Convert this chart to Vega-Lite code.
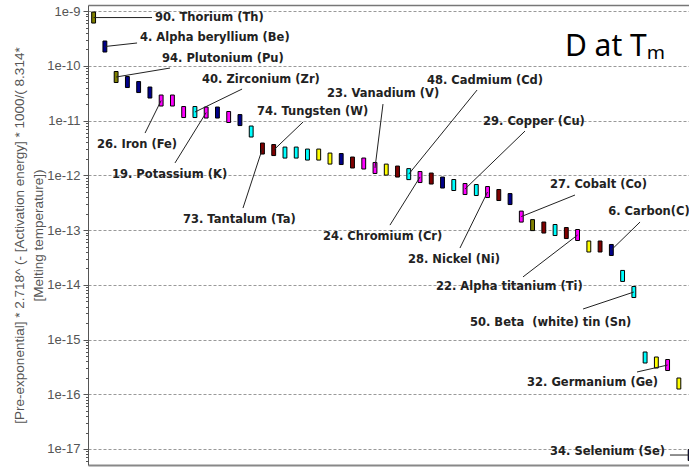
{
  "$schema": "https://vega.github.io/schema/vega-lite/v6.json",
  "width": 601,
  "height": 460,
  "autosize": {"type": "none"},
  "padding": {"left": 88, "top": 5, "right": 0, "bottom": 3},
  "background": "white",
  "config": {"view": {"stroke": null}},
  "title": {"text": "D at Tₘ", "anchor": "end", "frame": "group", "font": "Noto Sans", "fontSize": 30, "fontWeight": "normal", "color": "black", "baseline": "alphabetic", "offset": 0, "dx": -24, "dy": 81},
  "datasets": {
    "bars": [
      {"n": 0, "v": 7.61e-10, "g": "A"},
      {"n": 1, "v": 2.25e-10, "g": "B"},
      {"n": 2, "v": 6.24e-11, "g": "A"},
      {"n": 3, "v": 5.05e-11, "g": "B"},
      {"n": 4, "v": 4.09e-11, "g": "B"},
      {"n": 5, "v": 3.25e-11, "g": "B"},
      {"n": 6, "v": 2.32e-11, "g": "C"},
      {"n": 7, "v": 2.32e-11, "g": "C"},
      {"n": 8, "v": 1.43e-11, "g": "C"},
      {"n": 9, "v": 1.43e-11, "g": "D"},
      {"n": 10, "v": 1.40e-11, "g": "C"},
      {"n": 11, "v": 1.40e-11, "g": "B"},
      {"n": 12, "v": 1.16e-11, "g": "C"},
      {"n": 13, "v": 1.02e-11, "g": "B"},
      {"n": 14, "v": 6.30e-12, "g": "D"},
      {"n": 15, "v": 3.08e-12, "g": "E"},
      {"n": 16, "v": 2.89e-12, "g": "E"},
      {"n": 17, "v": 2.60e-12, "g": "D"},
      {"n": 18, "v": 2.60e-12, "g": "D"},
      {"n": 19, "v": 2.39e-12, "g": "D"},
      {"n": 20, "v": 2.39e-12, "g": "F"},
      {"n": 21, "v": 2.02e-12, "g": "F"},
      {"n": 22, "v": 1.98e-12, "g": "B"},
      {"n": 23, "v": 1.71e-12, "g": "E"},
      {"n": 24, "v": 1.64e-12, "g": "C"},
      {"n": 25, "v": 1.36e-12, "g": "C"},
      {"n": 26, "v": 1.27e-12, "g": "F"},
      {"n": 27, "v": 1.17e-12, "g": "E"},
      {"n": 28, "v": 1.05e-12, "g": "D"},
      {"n": 29, "v": 9.29e-13, "g": "C"},
      {"n": 30, "v": 8.72e-13, "g": "E"},
      {"n": 31, "v": 7.37e-13, "g": "B"},
      {"n": 32, "v": 6.64e-13, "g": "D"},
      {"n": 33, "v": 5.61e-13, "g": "C"},
      {"n": 34, "v": 5.38e-13, "g": "D"},
      {"n": 35, "v": 4.94e-13, "g": "C"},
      {"n": 36, "v": 4.36e-13, "g": "E"},
      {"n": 37, "v": 3.68e-13, "g": "B"},
      {"n": 38, "v": 1.76e-13, "g": "C"},
      {"n": 39, "v": 1.23e-13, "g": "A"},
      {"n": 40, "v": 1.11e-13, "g": "E"},
      {"n": 41, "v": 1.00e-13, "g": "D"},
      {"n": 42, "v": 8.81e-14, "g": "E"},
      {"n": 43, "v": 8.11e-14, "g": "C"},
      {"n": 44, "v": 5.00e-14, "g": "F"},
      {"n": 45, "v": 5.00e-14, "g": "E"},
      {"n": 46, "v": 4.32e-14, "g": "B"},
      {"n": 47, "v": 1.45e-14, "g": "D"},
      {"n": 48, "v": 7.37e-15, "g": "D"},
      {"n": 49, "v": 4.69e-16, "g": "D"},
      {"n": 50, "v": 3.80e-16, "g": "F"},
      {"n": 51, "v": 3.42e-16, "g": "C"},
      {"n": 52, "v": 1.57e-16, "g": "F"},
      {"n": 53, "v": 7.76e-18, "g": "B"}
    ],
    "labels": [
      {"label": "90. Thorium (Th)", "n": 0, "v": 7.61e-10, "ex": 5.19, "ev": 7.61e-10, "tx": 5.46, "tv": 7.61e-10},
      {"label": "4. Alpha beryllium (Be)", "n": 1, "v": 2.25e-10, "ex": 3.86, "ev": 2.61e-10, "tx": 4.12, "tv": 3.17e-10},
      {"label": "94. Plutonium (Pu)", "n": 2, "v": 6.24e-11, "ex": 6.79, "ev": 9.10e-11, "tx": 6.08, "tv": 1.31e-10},
      {"label": "40. Zirconium (Zr)", "n": 9, "v": 1.43e-11, "ex": 13.19, "ev": 3.76e-11, "tx": 9.63, "tv": 5.50e-11},
      {"label": "26. Iron (Fe)", "n": 6, "v": 2.32e-11, "ex": 4.57, "ev": 5.91e-12, "tx": 0.30, "tv": 3.57e-12},
      {"label": "19. Potassium (K)", "n": 10, "v": 1.40e-11, "ex": 7.23, "ev": 1.68e-12, "tx": 1.63, "tv": 1.01e-12},
      {"label": "74. Tungsten (W)", "n": 16, "v": 2.89e-12, "ex": 18.61, "ev": 9.40e-12, "tx": 14.52, "tv": 1.43e-11},
      {"label": "73. Tantalum (Ta)", "n": 15, "v": 3.08e-12, "ex": 13.27, "ev": 2.52e-13, "tx": 7.94, "tv": 1.52e-13},
      {"label": "23. Vanadium (V)", "n": 25, "v": 1.36e-12, "ex": 25.71, "ev": 2.00e-11, "tx": 20.74, "tv": 3.05e-11},
      {"label": "48. Cadmium (Cd)", "n": 28, "v": 1.05e-12, "ex": 34.07, "ev": 3.61e-11, "tx": 29.62, "tv": 5.37e-11},
      {"label": "24. Chromium (Cr)", "n": 29, "v": 9.29e-13, "ex": 26.33, "ev": 1.23e-13, "tx": 20.38, "tv": 7.45e-14},
      {"label": "29. Copper (Cu)", "n": 33, "v": 5.61e-13, "ex": 38.33, "ev": 6.43e-12, "tx": 34.60, "tv": 9.40e-12},
      {"label": "28. Nickel (Ni)", "n": 35, "v": 4.94e-13, "ex": 32.55, "ev": 4.69e-14, "tx": 27.93, "tv": 2.83e-14},
      {"label": "27. Cobalt (Co)", "n": 38, "v": 1.76e-13, "ex": 42.77, "ev": 4.36e-13, "tx": 40.55, "tv": 6.64e-13},
      {"label": "6. Carbon(C)", "n": 46, "v": 4.32e-14, "ex": 48.55, "ev": 1.40e-13, "tx": 45.72, "tv": 2.13e-13},
      {"label": "22. Alpha titanium (Ti)", "n": 43, "v": 8.11e-14, "ex": 38.15, "ev": 1.39e-14, "tx": 30.42, "tv": 9.10e-15},
      {"label": "50. Beta\u00a0 (white) tin (Sn)", "n": 48, "v": 7.37e-15, "ex": 43.49, "ev": 3.61e-15, "tx": 33.44, "tv": 2.00e-15},
      {"label": "32. Germanium (Ge)", "n": 51, "v": 3.42e-16, "ex": 48.28, "ev": 2.55e-16, "tx": 38.51, "tv": 1.60e-16},
      {"label": "34. Selenium (Se)", "n": 53, "v": 7.76e-18, "ex": 51.21, "ev": 7.76e-18, "tx": 40.55, "tv": 8.81e-18}
    ]
  },
  "layer": [
    {
      "data": {"name": "bars"},
      "mark": {"type": "point", "shape": "M-0.35,-1H0.35V1H-0.35Z", "filled": true, "size": 121, "stroke": "black", "strokeWidth": 1, "opacity": 1, "clip": true},
      "encoding": {
        "x": {"field": "n", "type": "quantitative", "scale": {"domain": [-0.5, 52.9], "nice": false, "zero": false},
              "axis": {"orient": "bottom", "labels": false, "ticks": false, "grid": false, "domainColor": "#888", "domainWidth": 2, "title": null}},
        "y": {"field": "v", "type": "quantitative", "scale": {"type": "log", "domain": [5.1e-18, 1.29e-9], "nice": false},
              "axis": {
                "orient": "left",
                "values": [1e-17, 1e-16, 1e-15, 1e-14, 1e-13, 1e-12, 1e-11, 1e-10, 1e-9],
                "format": ".0e",
                "labelFont": "Liberation Sans", "labelFontSize": 13, "labelColor": "#555",
                "labelOverlap": false, "labelBound": false, "labelFlush": false, "labelPadding": 3,
                "tickColor": "#555", "tickSize": 5,
                "grid": true, "gridDash": [3, 2], "gridColor": "#999",
                "domainColor": "#555",
                "title": ["[Pre-exponential] * 2.718^ (- [Activation energy] * 1000/( 8.314*", "[Melting temperature])"],
                "titleFont": "Liberation Sans", "titleFontSize": 13.5, "titleFontWeight": "normal", "titleColor": "#555",
                "titleLineHeight": 19, "titlePadding": 1
              }},
        "color": {"field": "g", "type": "nominal",
                  "scale": {"domain": ["A", "B", "C", "D", "E", "F"], "range": ["#808000", "#00008b", "#ff00ff", "#00ffff", "#800000", "#ffff00"]},
                  "legend": null}
      }
    },
    {
      "data": {"name": "labels"},
      "mark": {"type": "rule", "color": "#222", "strokeWidth": 1, "clip": true},
      "encoding": {
        "x": {"field": "n", "type": "quantitative", "scale": {"domain": [-0.5, 52.9], "nice": false, "zero": false}, "axis": null},
        "y": {"field": "v", "type": "quantitative", "scale": {"type": "log", "domain": [5.1e-18, 1.29e-9], "nice": false},
              "axis": {
                "orient": "left",
                "values": [6e-18, 7e-18, 8e-18, 9e-18,
                  2e-17, 3e-17, 4e-17, 5e-17, 6e-17, 7e-17, 8e-17, 9e-17,
                  2e-16, 3e-16, 4e-16, 5e-16, 6e-16, 7e-16, 8e-16, 9e-16,
                  2e-15, 3e-15, 4e-15, 5e-15, 6e-15, 7e-15, 8e-15, 9e-15,
                  2e-14, 3e-14, 4e-14, 5e-14, 6e-14, 7e-14, 8e-14, 9e-14,
                  2e-13, 3e-13, 4e-13, 5e-13, 6e-13, 7e-13, 8e-13, 9e-13,
                  2e-12, 3e-12, 4e-12, 5e-12, 6e-12, 7e-12, 8e-12, 9e-12,
                  2e-11, 3e-11, 4e-11, 5e-11, 6e-11, 7e-11, 8e-11, 9e-11,
                  2e-10, 3e-10, 4e-10, 5e-10, 6e-10, 7e-10, 8e-10, 9e-10],
                "labels": false, "grid": false, "domain": false, "title": null,
                "tickColor": "#555", "tickSize": 2.5, "offset": 0
              }},
        "x2": {"field": "ex"},
        "y2": {"field": "ev"}
      }
    },
    {
      "data": {"name": "labels"},
      "mark": {"type": "text", "align": "left", "baseline": "middle", "font": "DejaVu Sans", "fontWeight": "bold", "fontSize": 11.5, "color": "#222", "clip": true},
      "encoding": {
        "x": {"field": "tx", "type": "quantitative", "scale": {"domain": [-0.5, 52.9], "nice": false, "zero": false},
              "axis": {"orient": "top", "labels": false, "ticks": false, "grid": false, "domainColor": "#777", "domainWidth": 1.5, "title": null}},
        "y": {"field": "tv", "type": "quantitative", "scale": {"type": "log", "domain": [5.1e-18, 1.29e-9], "nice": false}, "axis": null},
        "text": {"field": "label"}
      }
    }
  ],
  "resolve": {"axis": {"x": "independent", "y": "independent"}}
}
